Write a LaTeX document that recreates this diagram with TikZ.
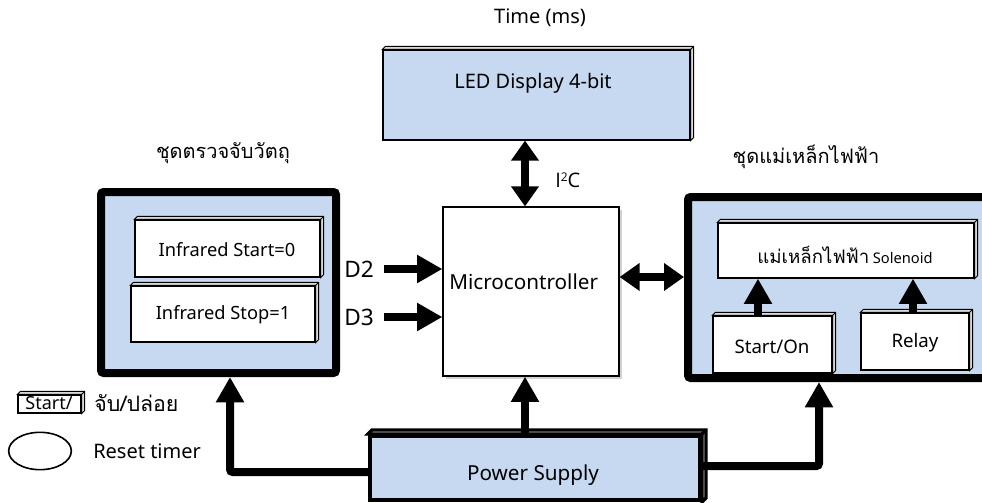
\documentclass[tikz,border=0pt]{standalone}
\usepackage{fontspec}
\setmainfont{Noto Sans}
\newfontfamily\thai[Script=Thai]{Loma}
\newfontfamily\altsans{Open Sans}
\usetikzlibrary{arrows.meta,shadows,calc,fit,shapes.geometric}
\definecolor{pale}{HTML}{C6D9F0}
\definecolor{side}{HTML}{D9D9D9}
\newcommand{\rbox}[6]{%
  \path (#2,#3) coordinate (#1-a) (#4,#5) coordinate (#1-b);
  \node[fit=(#1-a)(#1-b),inner sep=0pt,#6] (#1) {};}
\newcommand{\bevelon}[3]{%
  \filldraw[fill=side,line width=#3] (#1.north west) -- ++(#2,-#2) -- ($(#1.north east)+(#2,-#2)$)
    -- ($(#1.south east)+(#2,-#2)$) -- (#1.south east) -- (#1.north east) -- cycle;
  \draw[line width=#3] (#1.north east) -- ++(#2,-#2);}
\newcommand{\fs}[1]{\fontsize{#1}{#1}\selectfont}
\begin{document}
\begin{tikzpicture}[x=0.75pt,y=-0.75pt,
  flat/.style={draw,line width=0.9pt,fill=white},
  bluebox/.style={draw,line width=0.9pt,fill=pale},
  heavy/.style={draw,line width=6pt,fill=pale,rounded corners=2pt},
  fat/.style={line width=6pt,-{Triangle[width=20pt,length=19pt]}},
  fatboth/.style={line width=6pt,{Triangle[width=20pt,length=15pt]}-{Triangle[width=20pt,length=15pt]}},
  lab/.style={font=\fs{15},inner sep=0pt},
  thailab/.style={font=\thai\fs{15},inner sep=0pt}]
\clip (0,0) rectangle (982,503);
\fill[white] (0,0) rectangle (982,503);

% titles
\node[lab] (time) at (540,18) {Time (ms)};
\node[thailab] (t1) at (223,153) {ชุดตรวจจับวัตถุ};
\node[thailab] (t2) at (806,157) {ชุดแม่เหล็กไฟฟ้า};

% LED display
\rbox{led}{383}{50}{690}{140}{bluebox}
\bevelon{led}{3}{0.7pt}
\node[lab] at (533,83) {LED Display 4-bit};

% microcontroller
\rbox{micro}{443}{207}{619}{376}{flat,drop shadow={shadow xshift=2pt,shadow yshift=-2pt,opacity=0.35}}
\node[lab,font=\fs{15.5},anchor=west] (mtxt) at (449,282) {Microcontroller};

% left group
\rbox{lg}{101}{192}{336}{373}{heavy}
\rbox{irs}{135}{220}{320}{277}{flat}
\bevelon{irs}{3}{0.7pt}
\node[lab,font=\fs{13.7}] at (227,250) {Infrared Start=0};
\rbox{irp}{131}{286}{315}{342}{flat}
\bevelon{irp}{3}{0.7pt}
\node[lab,font=\fs{13.7}] at (223,315) {Infrared Stop=1};

% right group
\rbox{rg}{688}{197}{1000}{378}{heavy}
\rbox{sol}{718}{223}{974}{278}{flat}
\bevelon{sol}{3}{0.7pt}
\node[inner sep=0pt] at (845,255) {{\thai\fs{14}แม่เหล็กไฟฟ้า} {\fs{11}Solenoid}};
\rbox{son}{713}{316}{832}{373}{flat}
\bevelon{son}{3}{0.7pt}
\node[lab,font=\fs{14}] at (772,347) {Start/On};
\rbox{rel}{861}{313}{969}{370}{flat}
\bevelon{rel}{3}{0.7pt}
\node[lab,font=\fs{14}] at (915,343) {Relay};

% power supply
\rbox{ps}{370}{436}{700}{500}{bluebox,line width=3pt}
\bevelon{ps}{4}{2.5pt}
\node[lab,font=\fs{15.5}] at (533,475) {Power Supply};

% labels D2 D3 I2C
\node[lab,font=\fs{17},anchor=west] (d2) at (344,269) {D2};
\node[lab,font=\fs{17},anchor=west] (d3) at (344,317) {D3};
\node[lab,font=\altsans\fs{15},anchor=west] (i2c) at (555,180) {I\raisebox{0.55ex}{\altsans\fs{9}2}C};

% connectors
\coordinate (busx) at (525,0);
\coordinate (feedL) at (230,472);
\coordinate (feedR) at (819,466);
\coordinate (solA) at (758,0);
\coordinate (solB) at (913,0);
\draw[fat] ($(d2.east)+(10,0)$) -- (d2.east -| micro.west);
\draw[fat] ($(d3.east)+(10,0)$) -- (d3.east -| micro.west);
\draw[fatboth] (led.south -| busx) -- (micro.north -| busx);
\draw[fatboth] (micro.east |- 0,277) -- (rg.west |- 0,277);
\draw[fat] (ps.north -| busx) -- (micro.south -| busx);
\draw[fat,rounded corners=2pt] (ps.west |- feedL) -- (feedL) -- (lg.south -| feedL);
\draw[fat,rounded corners=2pt] (ps.east |- feedR) -- (feedR) -- (rg.south -| feedR);
\draw[fat] (son.north -| solA) -- (sol.south -| solA);
\draw[fat] (rel.north -| solB) -- (sol.south -| solB);

% legend
\rbox{lgbox}{18}{395}{81}{413}{flat}
\bevelon{lgbox}{3}{0.7pt}
\node[lab,font=\fs{13.5}] at (49,403) {Start/};
\node[thailab,font=\thai\fs{16},anchor=west] (leg1) at (94,403) {จับ/ปล่อย};
\node[draw,line width=1.2pt,ellipse,minimum width=47pt,minimum height=28pt,inner sep=0pt] (ell) at (40,451) {};
\node[lab,anchor=west] (leg2) at (93,451) {Reset timer};
\end{tikzpicture}
\end{document}
